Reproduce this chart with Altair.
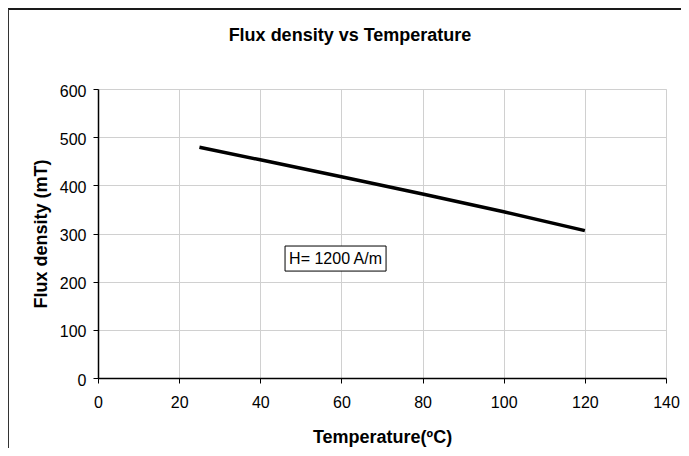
import altair as alt
import pandas as pd

# Data
temperature = [25, 40, 60, 80, 100, 120]
flux_density = [479, 453, 418, 382, 345, 306]

x_ticks = [0, 20, 40, 60, 80, 100, 120, 140]
y_ticks = [0, 100, 200, 300, 400, 500, 600]

annotation_text = ["H= 1200 A/m"]
annotation_box_x = [46.1]
annotation_box_x2 = [71.0]
annotation_box_y = [274]
annotation_box_y2 = [222]
annotation_text_x = [47.1]
annotation_text_y = [237]

FONT = "Liberation Sans"
W, H = 568, 289

df = pd.DataFrame({"T": temperature, "B": flux_density})
ann = pd.DataFrame({
    "label": annotation_text,
    "x": annotation_box_x, "x2": annotation_box_x2,
    "y": annotation_box_y, "y2": annotation_box_y2,
    "tx": annotation_text_x, "ty": annotation_text_y,
})
one = pd.DataFrame({"k": [0]})

xscale = alt.Scale(domain=[0, 140], nice=False, zero=False)
yscale = alt.Scale(domain=[0, 600], nice=False, zero=False)

xaxis = alt.Axis(
    values=x_ticks, title="Temperature(ºC)", grid=True, gridColor="#d0d0d0", gridWidth=1,
    domainColor="#000000", domainWidth=1.5, tickColor="#000000", tickSize=5, tickWidth=1,
    labelFont=FONT, labelFontSize=16, labelColor="#000000", labelBaseline="alphabetic",
    labelPadding=24, labelFlush=False,
    titleFont=FONT, titleFontSize=18, titleFontWeight="bold", titleColor="#000000",
    titleX=W / 2, titleY=64, titleBaseline="alphabetic", titleAlign="center",
)
yaxis = alt.Axis(
    values=y_ticks, title="Flux density (mT)", grid=True, gridColor="#d0d0d0", gridWidth=1,
    domainColor="#000000", domainWidth=1.5, tickColor="#000000", tickSize=5, tickWidth=1,
    labelFont=FONT, labelFontSize=16, labelColor="#000000", labelBaseline="middle",
    labelPadding=7, labelOffset=2, labelFlush=False,
    titleFont=FONT, titleFontSize=18, titleFontWeight="bold", titleColor="#000000",
    titleX=-57, titleY=H / 2, titleBaseline="middle", titleAlign="center", titleAngle=270,
)

line = alt.Chart(df).mark_line(color="#000000", strokeWidth=3.5).encode(
    x=alt.X("T:Q", scale=xscale, axis=xaxis),
    y=alt.Y("B:Q", scale=yscale, axis=yaxis),
)

box = alt.Chart(ann).mark_rect(fill="#ffffff", stroke="#000000", strokeWidth=1).encode(
    x=alt.X("x:Q", scale=xscale), x2="x2:Q",
    y=alt.Y("y:Q", scale=yscale), y2="y2:Q",
)
label = alt.Chart(ann).mark_text(
    font=FONT, fontSize=16, color="#000000", align="left", baseline="alphabetic"
).encode(
    x=alt.X("tx:Q", scale=xscale), y=alt.Y("ty:Q", scale=yscale), text="label:N"
)

border_top = alt.Chart(one).mark_rule(color="#1a1a1a", strokeWidth=2).encode(
    x=alt.value(-90), x2=alt.value(W + 200), y=alt.value(-80)
)
border_left = alt.Chart(one).mark_rule(color="#333333", strokeWidth=2).encode(
    x=alt.value(-90), y=alt.value(-80), y2=alt.value(H + 200)
)

chart = alt.layer(border_top, border_left, line, box, label).properties(
    width=W, height=H,
    title=alt.TitleParams(
        "Flux density vs Temperature", font=FONT, fontSize=18, fontWeight="bold",
        color="#000000", anchor="middle", frame="group", offset=0, baseline="alphabetic",
        dx=-32, dy=51,
    ),
    autosize=alt.AutoSizeParams(type="none"),
    padding={"left": 90, "top": 81, "right": 15, "bottom": 70},
).configure_view(stroke="#808080", strokeWidth=2).configure(background="#ffffff")

chart.save("out.html", embed_options={"renderer": "svg", "actions": False})
